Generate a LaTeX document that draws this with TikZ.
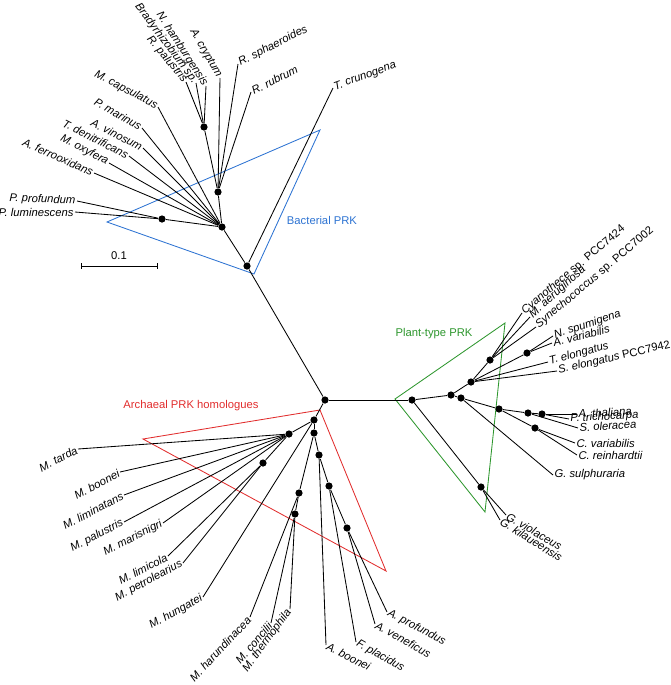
\documentclass[tikz,border=0pt]{standalone}
\usepackage{fontspec}
\setmainfont{Liberation Sans}
\definecolor{bactblue}{RGB}{45,115,210}
\definecolor{archred}{RGB}{225,45,45}
\definecolor{plantgreen}{RGB}{45,150,45}
\begin{document}
\begin{tikzpicture}[
	dot/.style={circle,fill,inner sep=0pt,minimum size=1.8mm},
	leafl/.style={anchor=east,inner sep=0.8pt,font=\fontsize{8}{9.6}\selectfont\itshape},
	leafr/.style={anchor=west,inner sep=0.8pt,font=\fontsize{8}{9.6}\selectfont\itshape},
	clade/.style={font=\fontsize{8}{9.6}\selectfont}
	]
			\begin{scope}[x={0.025cm},y={-0.025cm},line width=0.6pt]
				\useasboundingbox (0,0) rectangle (671,685);

				% clade triangles
				\draw[bactblue] (107,222)--(320,130)--(254,274)--cycle; % bacterial
				\draw[archred] (143,439)--(320,410)--(386,571)--cycle; % archaeal
				\draw[plantgreen] (395,399)--(505,323)--(485,512)--cycle; % plant-type

				\node[clade,bactblue] (bactlbl) at (322,220) {Bacterial PRK};
				\node[clade,archred] (archlbl) at (191,406) {Archaeal PRK homologues};
				\node[clade,plantgreen] (plantlbl) at (434,334) {Plant-type PRK};

				% scale bar
				\draw (81,266)--(157,266);
				\draw (81,263)--(81,269);
				\draw (157,263)--(157,269);
				\node[clade] (scalelbl) at (119,256) {0.1};

				% inner nodes
				\node[dot] (r0) at (325,400) {}; % root
				\node[dot] (b0) at (247,266) {};
				\node[dot] (b1) at (222,227) {};
				\node[dot] (b2) at (218,192) {};
				\node[dot] (b3) at (204,127) {};
				\node[dot] (b4) at (162,219) {};
				\node[dot] (a1) at (314,420) {};
				\node[dot] (a2) at (289,434) {};
				\node[dot] (a3) at (314,433) {};
				\node[dot] (a4) at (319,455) {};
				\node[dot] (a5) at (263,463) {};
				\node[dot] (a6) at (299,493) {};
				\node[dot] (a7) at (295,514) {};
				\node[dot] (a8) at (329,486) {};
				\node[dot] (a9) at (347,528) {};
				\node[dot] (p0) at (412,400) {};
				\node[dot] (p1) at (451,395) {};
				\node[dot] (p3) at (461,398) {};
				\node[dot] (p2) at (471,382) {};
				\node[dot] (p6) at (490,360) {};
				\node[dot] (p7) at (527,353) {};
				\node[dot] (p4) at (499,409) {};
				\node[dot] (p8) at (528,413) {};
				\node[dot] (p9) at (542,414) {};
				\node[dot] (p10) at (535,428) {};
				\node[dot] (p5) at (481,487) {};

				% bacterial leaves
				\node[leafr,rotate=20] (tcru) at (333,88) {T. crunogena};
				\node[leafr,rotate=27] (rsph) at (238,64) {R. sphaeroides};
				\node[leafr,rotate=27] (rrub) at (251,92) {R. rubrum};
				\node[leafl,rotate=-60] (acry) at (220,78) {A. cryptum};
				\node[leafl,rotate=-57] (nham) at (206,86) {N. hamburgensis};
				\node[leafl,rotate=-53] (brad) at (196,83) {Bradyrhizobium sp.};
				\node[leafl,rotate=-50] (rpal) at (186,82) {R. palustris};
				\node[leafl,rotate=-28] (mcap) at (158,107) {M. capsulatus};
				\node[leafl,rotate=-30] (pmar) at (142,128) {P. marinus};
				\node[leafl,rotate=-27] (avin) at (143,148) {A. vinosum};
				\node[leafl,rotate=-27] (tden) at (129,156) {T. denitrificans};
				\node[leafl,rotate=-28] (moxy) at (109,163) {M. oxyfera};
				\node[leafl,rotate=-24] (afer) at (94,173) {A. ferrooxidans};
				\node[leafl,rotate=-2] (ppro) at (77,201) {P. profundum};
				\node[leafl] (plum) at (75,212) {P. luminescens};

				% archaeal leaves
				\node[leafl,rotate=27] (mtar) at (78,449) {M. tarda};
				\node[leafl,rotate=28] (mboo) at (120,472) {M. boonei};
				\node[leafl,rotate=27] (mlin) at (124,495) {M. liminatans};
				\node[leafl,rotate=27] (mpal) at (124,522) {M. palustris};
				\node[leafl,rotate=27] (mmar) at (163,523) {M. marisnigri};
				\node[leafl,rotate=27] (mlim) at (168,556) {M. limicola};
				\node[leafl,rotate=28] (mpet) at (183,563) {M. petrolearius};
				\node[leafl,rotate=29] (mhun) at (203,597) {M. hungatei};
				\node[leafl,rotate=47] (mhar) at (250,617) {M. harundinacea};
				\node[leafl,rotate=49] (mcon) at (271,623) {M. concilii};
				\node[leafl,rotate=54] (mthe) at (290,609) {M. thermophila};
				\node[leafr,rotate=-27] (aboo) at (326,645) {A. boonei};
				\node[leafr,rotate=-30] (fpla) at (356,642) {F. placidus};
				\node[leafr,rotate=-29] (aven) at (375,624) {A. veneficus};
				\node[leafr,rotate=-28] (apro) at (387,612) {A. profundus};

				% plant-type leaves
				\node[leafr,rotate=40] (cyan) at (522,313) {Cyanothece \upshape sp. PCC7424};
				\node[leafr,rotate=42] (maer) at (530,317) {M. aeruginosa};
				\node[leafr,rotate=40] (syne) at (536,327) {Synechococcus \upshape sp. PCC7002};
				\node[leafr,rotate=18] (nspu) at (553,336) {N. spumigena};
				\node[leafr,rotate=14] (avar) at (552,343) {A. variabilis};
				\node[leafr,rotate=15] (telo) at (548,362) {T. elongatus};
				\node[leafr,rotate=13] (selo) at (557,371) {S. elongatus \upshape PCC7942};
				\node[leafr,rotate=3] (atha) at (577,414) {A. thaliana};
				\node[leafr,rotate=3] (ptri) at (569,419) {P. trichocarpa};
				\node[leafr,rotate=4] (sole) at (578,428) {S. oleracea};
				\node[leafr] (cvar) at (575,443) {C. variabilis};
				\node[leafr] (crei) at (577,455) {C. reinhardtii};
				\node[leafr] (gsul) at (553,475) {G. sulphuraria};
				\node[leafr,rotate=-30] (gvio) at (506,515) {G. violaceus};
				\node[leafr,rotate=-32] (gkil) at (500,520) {G. kilaueensis};

				% backbone
				\draw (r0)--(b0); % to bacterial
				\draw (r0)--(a1); % to archaeal
				\draw (r0)--(p0); % to plant-type

				% bacterial branches
				\draw (b0)--(b1);
				\draw (b1)--(b2);
				\draw (b2)--(b3);
				\draw (b1)--(b4);
				\draw (b0)--(tcru.west);
				\draw (b2)--(rsph.west);
				\draw (b2)--(rrub.west);
				\draw (b2)--(acry.east);
				\draw (b3)--(nham.east);
				\draw (b3)--(brad.east);
				\draw (b3)--(rpal.east);
				\draw (b1)--(mcap.east);
				\draw (b1)--(pmar.east);
				\draw (b1)--(avin.east);
				\draw (b1)--(tden.east);
				\draw (b1)--(moxy.east);
				\draw (b1)--(afer.east);
				\draw (b4)--(ppro.east);
				\draw (b4)--(plum.east);

				% archaeal branches
				\draw (a1)--(a2);
				\draw (a1)--(a3);
				\draw (a2)--(a5);
				\draw (a3)--(a4);
				\draw (a3)--(a6);
				\draw (a6)--(a7);
				\draw (a4)--(a8);
				\draw (a8)--(a9);
				\draw (a2)--(mtar.east);
				\draw (a2)--(mboo.east);
				\draw (a2)--(mlin.east);
				\draw (a2)--(mpal.east);
				\draw (a2)--(mmar.east);
				\draw (a5)--(mlim.east);
				\draw (a5)--(mpet.east);
				\draw (a1)--(mhun.east);
				\draw (a6)--(mhar.east);
				\draw (a7)--(mcon.east);
				\draw (a7)--(mthe.east);
				\draw (a4)--(aboo.west);
				\draw (a8)--(fpla.west);
				\draw (a9)--(aven.west);
				\draw (a9)--(apro.west);

				% plant-type branches
				\draw (p0)--(p1);
				\draw (p1)--(p2);
				\draw (p1)--(p3);
				\draw (p3)--(p4);
				\draw (p2)--(p6);
				\draw (p2)--(p7);
				\draw (p4)--(p8);
				\draw (p8)--(p9);
				\draw (p4)--(p10);
				\draw (p0)--(p5);
				\draw (p6)--(cyan.west);
				\draw (p6)--(maer.west);
				\draw (p6)--(syne.west);
				\draw (p7)--(nspu.west);
				\draw (p7)--(avar.west);
				\draw (p2)--(telo.west);
				\draw (p2)--(selo.west);
				\draw (p9)--(atha.west);
				\draw (p9)--(ptri.west);
				\draw (p8)--(sole.west);
				\draw (p10)--(cvar.west);
				\draw (p10)--(crei.west);
				\draw (p3)--(gsul.west);
				\draw (p5)--(gvio.west);
				\draw (p5)--(gkil.west);
			\end{scope}
		\end{tikzpicture}
\end{document}
